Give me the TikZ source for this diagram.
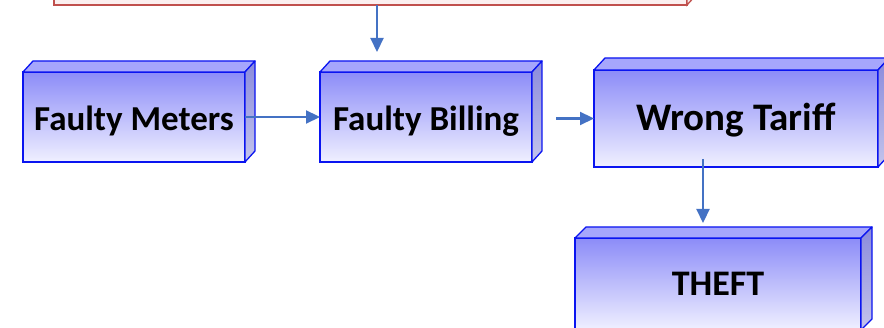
\documentclass[tikz,border=0pt]{standalone}
\usepackage{fontspec}
\setmainfont{Carlito}
\usetikzlibrary{calc,arrows.meta}
\definecolor{edgeblue}{HTML}{0A14F0}
\definecolor{facetop}{HTML}{8C8CF8}
\definecolor{facebot}{HTML}{F0F0FF}
\definecolor{lidcol}{HTML}{A6A6FC}
\definecolor{sidetop}{HTML}{8A8ADC}
\definecolor{sidebot}{HTML}{C4C4EC}
\definecolor{arrowcol}{HTML}{4472C4}
\definecolor{rededge}{HTML}{C0504D}
\definecolor{redfill}{HTML}{FBEFEF}
\tikzset{
  cubeface/.style={draw=edgeblue, line width=1.3pt, top color=facetop, bottom color=facebot,
    inner sep=0pt, outer sep=0pt, text depth=0pt, text=black},
  cubelid/.style={draw=edgeblue, line width=1.3pt, fill=lidcol, line join=round},
  cubeside/.style={draw=edgeblue, line width=1.3pt, top color=sidetop, bottom color=sidebot, line join=round},
  flow/.style={draw=arrowcol, line width=2.2pt, -{Triangle[length=14pt,width=13pt]}},
}
% draws the lid and the right side of a box node #1 with depth (#2)
\newcommand\boxdepth[2]{%
  \path[cubelid] (#1.north west) -- ++(#2) -- ($(#1.north east)+(#2)$) -- (#1.north east) -- cycle;
  \path[cubeside] (#1.north east) -- ++(#2) -- ($(#1.south east)+(#2)$) -- (#1.south east) -- cycle;
}
\begin{document}
\begin{tikzpicture}[x=1pt,y=-1pt]
\useasboundingbox (0,0) rectangle (884,328);

% source box, mostly above the page
\node[draw=rededge, line width=1.3pt, fill=redfill, minimum width=633pt, minimum height=90pt,
      inner sep=0pt, outer sep=0pt] (cause) at (370.5,-40) {};
\path[draw=rededge, line width=1.3pt, fill=redfill!70!rededge!40] (cause.north east) -- ++(10,-11) -- ($(cause.south east)+(10,-11)$) -- (cause.south east) -- cycle;

% box chain
\node[cubeface, minimum width=222pt, minimum height=90pt, text height=22.1pt,
      font=\fontsize{35}{40}\selectfont\bfseries] (meters) at (134,117) {\raisebox{-2pt}{Faulty Meters}};
\boxdepth{meters}{10,-11}
\node[cubeface, minimum width=212pt, minimum height=90pt, text height=22.1pt,
      font=\fontsize{35}{40}\selectfont\bfseries] (billing) at (426,117) {\raisebox{-2pt}{Faulty Billing}};
\boxdepth{billing}{10,-11}
\node[cubeface, minimum width=284pt, minimum height=97pt, text height=24.6pt,
      font=\fontsize{39}{44}\selectfont\bfseries] (tariff) at (736,118.5) {Wrong Tariff};
\boxdepth{tariff}{11,-12}
\node[cubeface, minimum width=286pt, minimum height=92pt, text height=22.8pt,
      font=\fontsize{36}{40}\selectfont\bfseries] (theft) at (718,284) {THEFT};
\boxdepth{theft}{11,-11}

% connectors
\coordinate (inflow) at (377,52);
\draw[flow] ([xshift=6.5pt]cause.south) -- (inflow);
\draw[flow] (meters.east) -- (billing.west);
\coordinate (gap) at ([xshift=24pt]billing.east);
\draw[flow] (gap |- tariff.west) -- (tariff.west);
\coordinate (outflow) at (703,223);
\draw[flow] ([xshift=-33pt,yshift=8pt]tariff.south) -- (outflow);
\end{tikzpicture}
\end{document}
